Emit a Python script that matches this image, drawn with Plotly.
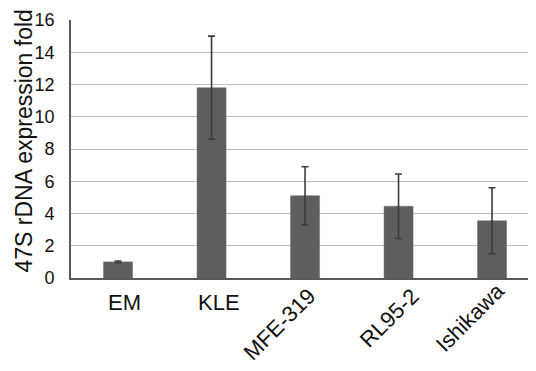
import plotly.graph_objects as go

categories = ["EM", "KLE", "MFE-319", "RL95-2", "Ishikawa"]
values = [1.0, 11.8, 5.1, 4.45, 3.55]
errors = [0.05, 3.2, 1.8, 2.0, 2.05]
y_ticks = [0, 2, 4, 6, 8, 10, 12, 14, 16]

# the page body has an 8px margin, so the figure is laid out 8px smaller
OFF = 8
W, H = 536 - OFF, 371 - OFF
L, R, T, B = 71 - OFF, 0, 20 - OFF, 93
plot_h = H - T - B

FONT = "Liberation Sans, Arial, sans-serif"

fig = go.Figure()
fig.add_trace(go.Bar(
    x=categories, y=values,
    width=0.31,
    marker=dict(color="#5d5e5d", line=dict(color="#6a6a6a", width=0.5)),
    error_y=dict(type="data", array=errors, visible=True,
                 color="#3c3c3c", thickness=1.6, width=3.5),
))

# label placement (style only): angle, x pixel shift, y centre in page px
label_angle = [0, 0, -45, -45, -45]
label_dx = [6, 7, -26, -10, -22]
label_yc = [302, 302, 324, 318, 317.5]
for c, a, dx, yc in zip(categories, label_angle, label_dx, label_yc):
    fig.add_annotation(
        x=c, xref="x", xshift=dx,
        y=(H - B - (yc - OFF)) / plot_h, yref="paper",
        text=c, textangle=a, showarrow=False,
        xanchor="center", yanchor="middle",
        font=dict(family=FONT, size=22, color="#111111"),
    )

fig.add_annotation(
    x=(23 - 71) / (W - L - R), xref="paper",
    y=(278 - 141.5) / plot_h, yref="paper",
    text="47S rDNA expression fold", textangle=-90, showarrow=False,
    xanchor="center", yanchor="middle",
    font=dict(family=FONT, size=23, color="#111111"),
)

fig.update_layout(
    width=W, height=H,
    margin=dict(l=L, r=R, t=T, b=B, pad=0),
    paper_bgcolor="white", plot_bgcolor="white",
    showlegend=False,
    font=dict(family=FONT, color="#111111"),
)
fig.update_xaxes(
    type="category", range=[-0.503, 4.47],
    showticklabels=False, ticks="",
    showline=True, linecolor="#595959", linewidth=1.8,
    showgrid=False, zeroline=False,
)
fig.update_yaxes(
    range=[0, 16], tickvals=y_ticks,
    ticktext=[str(v) for v in y_ticks],
    tickfont=dict(family=FONT, size=18, color="#111111"),
    ticks="", ticklabelstandoff=11,
    showline=True, linecolor="#595959", linewidth=1.8,
    showgrid=True, gridcolor="#bdbdbd", gridwidth=1.4,
    zeroline=False,
)

fig.write_html("out.html")
